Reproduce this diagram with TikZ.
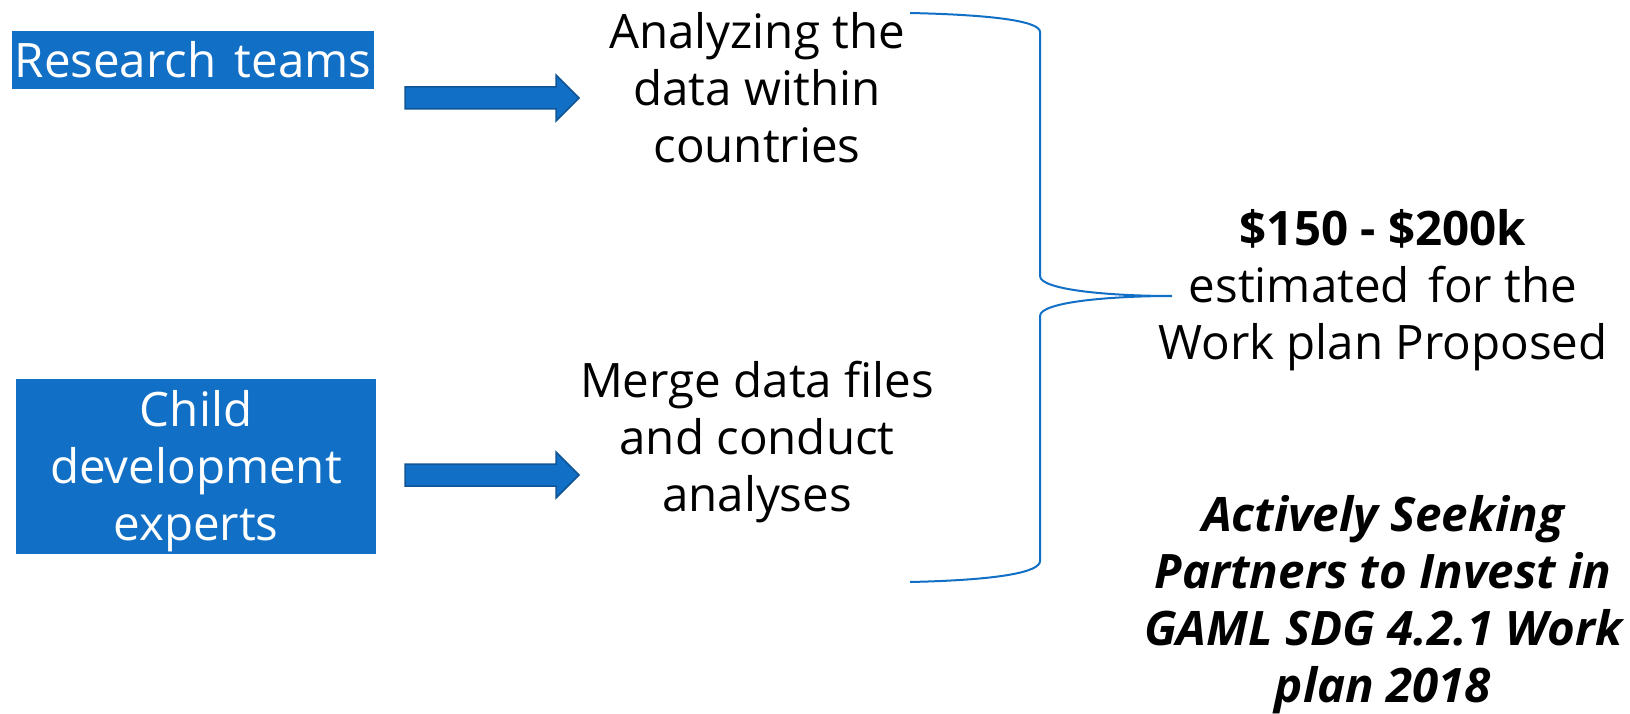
\documentclass[tikz,border=0pt]{standalone}
\usepackage{fontspec}
\setmainfont{Open Sans}
\usepackage{tikz}
\usetikzlibrary{positioning}
\definecolor{boxblue}{RGB}{17,112,198}
\definecolor{edgeblue}{RGB}{14,84,150}
\tikzset{
    bluebox/.style={fill=boxblue, text=white, inner sep=0pt, align=center, font=\fontsize{47.5}{57}\selectfont},
    plaintext/.style={align=center, inner sep=0pt, font=\fontsize{47.5}{57}\selectfont},
    blockarrow/.style={fill=boxblue, draw=edgeblue, line width=1.5pt},
    bracepath/.style={draw=boxblue, line width=2pt}
}

\begin{document}
\begin{tikzpicture}[x=1pt,y=-1pt]
            \useasboundingbox (0,0) rectangle (1630,714);
            \node[bluebox, minimum width=362pt, minimum height=58pt] (teams) at (193,60) {Research\hspace{0.38em}teams};
            \node[bluebox, minimum width=360pt, minimum height=175pt] (experts) at (196,466) {\rule{0pt}{47pt}Child\\development\\experts};
            \coordinate (arrA) at (405,98);
            \coordinate (arrB) at (405,475);
            \draw[blockarrow] (arrA) ++(0,-11) -- ++(151,0) -- ++(0,-12) -- ++(23,23) -- ++(-23,23) -- ++(0,-12) -- ++(-151,0) -- cycle;
            \draw[blockarrow] (arrB) ++(0,-11) -- ++(151,0) -- ++(0,-12) -- ++(23,23) -- ++(-23,23) -- ++(0,-12) -- ++(-151,0) -- cycle;
            \node[plaintext] (analyze) at (757,88) {Analyzing the\\data within\\countries};
            \node[plaintext] (merge) at (757,442) {Merge data files\\and conduct\\analyses};
            \coordinate (braceTop) at (910,13);
            \coordinate (braceBot) at (910,582);
            \coordinate (braceTip) at (1172,296);
            \draw[bracepath] (braceTop) .. controls (1000,15) and (1040,22) .. (1040,32)
                -- (1040,276) .. controls (1040,290) and (1110,296) .. (braceTip)
                .. controls (1110,296) and (1040,302) .. (1040,316)
                -- (1040,561) .. controls (1040,572) and (1000,580) .. (braceBot);
            \node[plaintext] (cost) at (1383,290) {\textbf{\$150 - \$200k}\\estimated\hspace{0.38em}for the\\Work plan Proposed};
            \node[plaintext, font=\fontsize{47.5}{57}\selectfont\bfseries\itshape] (seek) at (1383,605) {Actively Seeking\\Partners to Invest in\\GAML SDG 4.2.1 Work\\plan 2018};
\end{tikzpicture}
\end{document}
